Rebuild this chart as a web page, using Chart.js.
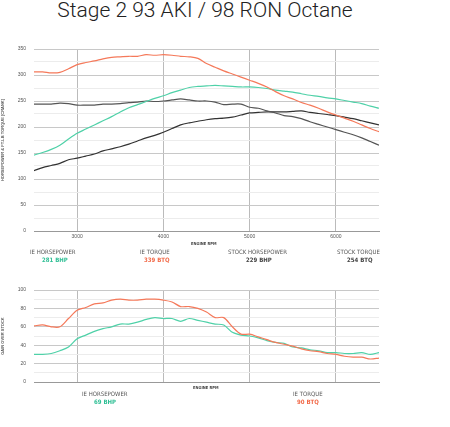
<!DOCTYPE html>
<html lang="en">
<head>
    <meta charset="UTF-8">
    <title>Stage 2 93 AKI / 98 RON Octane</title>
    <script src="https://cdn.jsdelivr.net/npm/chart.js"></script>
    <style>
        body { margin: 0; width: 450px; height: 427px; background: #fff; font-family: "DejaVu Sans Condensed", "Roboto", sans-serif; position: relative; overflow: hidden; }
        h2 { position: absolute; left: 0; width: 410px; top: -2px; margin: 0; text-align: center; font-family: "Roboto", sans-serif; font-weight: 300; font-size: 21px; color: #222; }
        .wrap { position: absolute; left: 0; }
        .lab { position: absolute; font-size: 6px; color: #555; white-space: nowrap; }
        .val { position: absolute; font-size: 6px; font-weight: bold; white-space: nowrap; }
        .ax { position: absolute; font-size: 4px; font-weight: bold; color: #444; }
    </style>
</head>
<body>
    <h2>Stage 2 93 AKI / 98 RON Octane</h2>
    <div class="wrap" style="top:38px;width:380px;height:207px"><canvas id="powerChart"></canvas></div>
    <div class="wrap" style="top:279px;width:380px;height:114px"><canvas id="gainChart"></canvas></div>

    <div class="ax" style="left:191px;top:241px">ENGINE RPM</div>
    <div class="lab" style="left:30px;top:248px">IE HORSEPOWER</div>
    <div class="val" style="left:42px;top:256px;color:#2fbf95">281 BHP</div>
    <div class="lab" style="left:140px;top:248px">IE TORQUE</div>
    <div class="val" style="left:144px;top:256px;color:#f26b4a">339 BTQ</div>
    <div class="lab" style="left:228px;top:248px">STOCK HORSEPOWER</div>
    <div class="val" style="left:246px;top:256px;color:#444">229 BHP</div>
    <div class="lab" style="left:337px;top:248px">STOCK TORQUE</div>
    <div class="val" style="left:347px;top:256px;color:#444">254 BTQ</div>

    <div class="ax" style="left:193px;top:385px">ENGINE RPM</div>
    <div class="lab" style="left:82px;top:390px">IE HORSEPOWER</div>
    <div class="val" style="left:94px;top:398px;color:#2fbf95">69 BHP</div>
    <div class="lab" style="left:293px;top:390px">IE TORQUE</div>
    <div class="val" style="left:297px;top:398px;color:#f26b4a">90 BTQ</div>
    <script>
        const rpm = [];
        for (let r = 2500; r <= 6500; r += 100) rpm.push(r);

        const ieTorque = [306,306,304,305,312,320,324,327,331,334,335,336,336,339,338,339,338,336,335,332,322,315,308,302,296,290,284,277,268,260,254,247,242,236,229,223,217,211,204,197,191];
        const ieHorsepower = [146,151,157,165,177,188,196,204,212,220,229,237,243,249,255,260,266,271,276,278,279,280,279,278,277,277,276,274,271,269,267,264,261,259,256,254,251,248,245,240,236];
        const stockTorque = [244,244,244,246,245,242,242,242,244,244,245,247,248,250,249,250,252,254,252,250,250,248,243,244,244,238,236,231,227,222,220,216,210,205,200,195,190,185,179,172,165];
        const stockHorsepower = [116,122,126,130,137,140,144,148,154,158,162,167,173,179,184,190,197,204,208,211,214,216,217,219,223,227,228,229,229,229,230,231,228,226,224,222,219,216,212,208,204];

        const gainTorque = [61,62,60,60,69,78,81,85,86,89,90,89,89,90,90,89,87,82,82,80,76,70,70,60,52,52,49,46,43,41,39,36,34,33,31,30,28,27,27,25,26];
        const gainHorsepower = [30,30,31,34,38,47,51,55,58,60,63,63,65,68,70,69,69,66,69,67,65,63,62,54,51,50,48,45,43,42,38,37,35,34,32,32,31,31,32,30,32];

        const rpmTicks = [3000, 4000, 5000, 6000];

        const ORANGE = '#f5795a', TEAL = '#4fd1a8';
        const pts = (ys) => ys.map((y, i) => ({ x: rpm[i], y: y }));
        const line = (ys, color) => ({ data: pts(ys), borderColor: color, borderWidth: 1.2, pointRadius: 0, tension: 0.3, fill: false });

        function xScale(showLabels) {
            return {
                type: 'linear', min: 2500, max: 6500,
                afterBuildTicks: (s) => { s.ticks = rpmTicks.map(v => ({ value: v })); },
                ticks: { display: showLabels, font: { size: 5 }, color: '#555', padding: 3, callback: (v) => String(v) },
                grid: { color: '#bbb', lineWidth: 1, drawTicks: false },
                border: { color: '#999' },
                afterFit: (s) => { s.height = 14; }
            };
        }

        function yScale(max, step, labelEvery, title) {
            return {
                min: 0, max: max,
                ticks: { stepSize: step, font: { size: 5 }, color: '#555', padding: 8,
                    callback: (v) => (v % labelEvery === 0 ? v : '') },
                grid: { drawTicks: false, lineWidth: 1,
                    color: (c) => (c.tick && c.tick.value % labelEvery === 0 ? '#c8c8c8' : '#ececec') },
                border: { display: false },
                title: { display: true, text: title, font: { size: 4, weight: 'bold' }, color: '#555', padding: 0 },
                afterFit: (s) => { s.width = 34; }
            };
        }

        const common = {
            responsive: true, maintainAspectRatio: false, animation: false,
            plugins: { legend: { display: false }, tooltip: { enabled: false } }
        };

        new Chart(document.getElementById('powerChart'), {
            type: 'line',
            data: { datasets: [
                line(ieTorque, ORANGE),
                line(ieHorsepower, TEAL),
                line(stockTorque, '#555'),
                line(stockHorsepower, '#333')
            ] },
            options: Object.assign({}, common, {
                layout: { padding: { top: 2, right: 1 } },
                scales: { x: xScale(true), y: yScale(350, 25, 50, 'HORSEPOWER & FT-LB TORQUE [CRANK]') }
            })
        });

        new Chart(document.getElementById('gainChart'), {
            type: 'line',
            data: { datasets: [
                line(gainTorque, ORANGE),
                line(gainHorsepower, TEAL)
            ] },
            options: Object.assign({}, common, {
                layout: { padding: { top: 0, right: 1 } },
                scales: {
                    x: Object.assign(xScale(false), { afterFit: (s) => { s.height = 0; } }),
                    y: yScale(100, 10, 20, 'GAIN OVER STOCK')
                }
            })
        });
    </script>
</body>
</html>
